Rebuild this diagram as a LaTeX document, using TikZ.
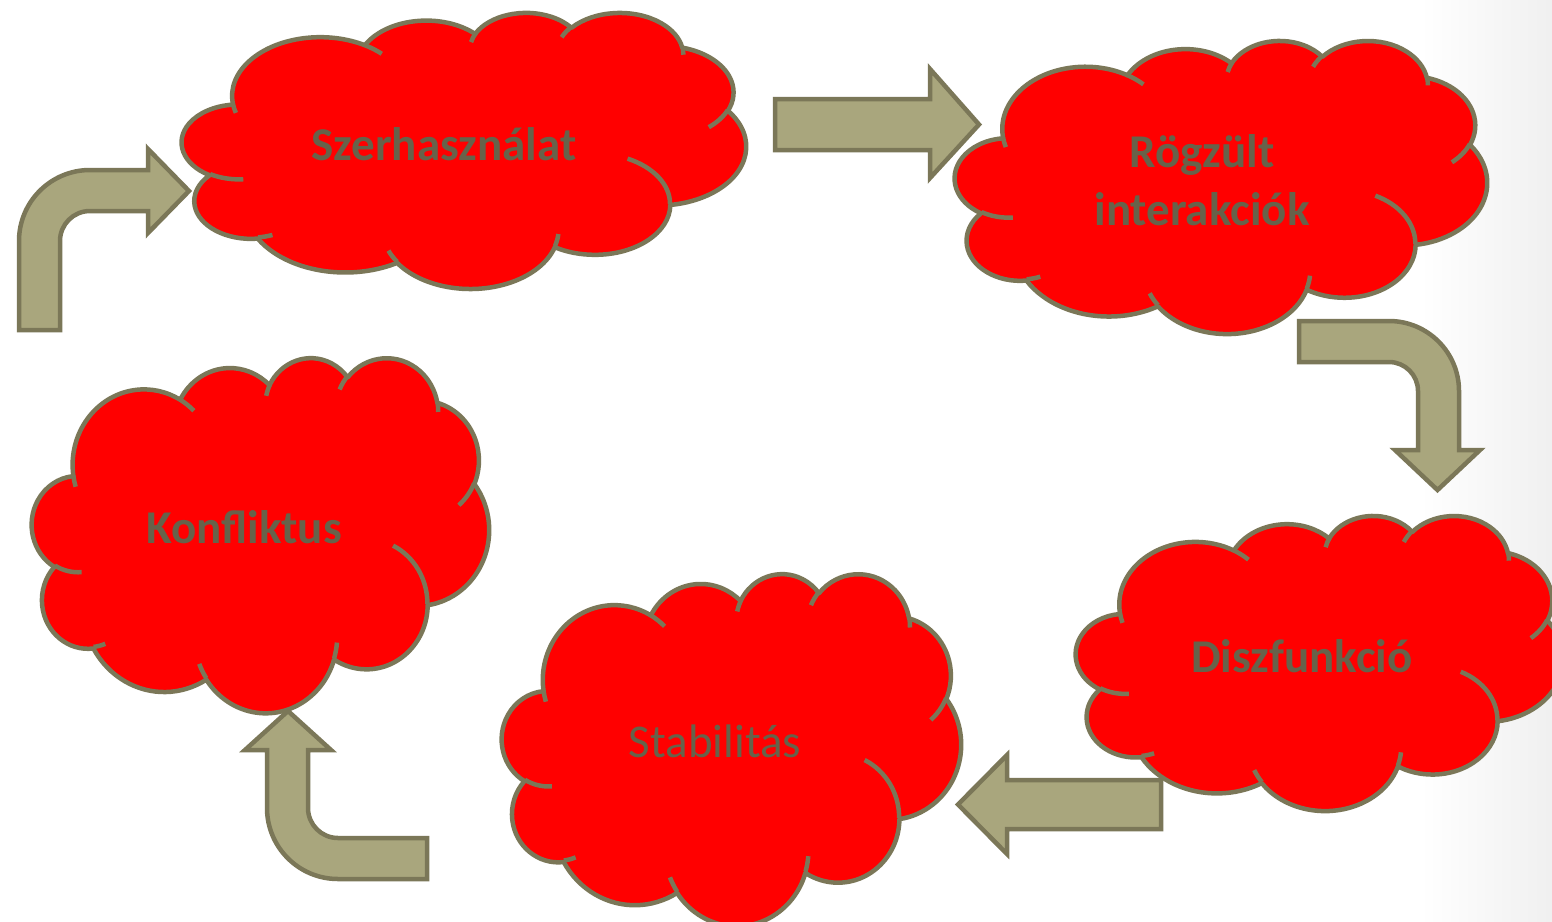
\documentclass[tikz,border=0pt]{standalone}
\usepackage{tikz}
\usepackage{fontspec}
\setmainfont{Carlito}
\definecolor{cloudred}{HTML}{FF0000}
\definecolor{olivedark}{HTML}{7B7758}
\definecolor{olivefill}{HTML}{A9A67D}
\definecolor{txtcol}{HTML}{67624A}

% convert an OOXML arc (visual angles) into parametric start/delta angles
\newcommand\convarc[5]{%
  \pgfmathsetmacro\tmpS{atan2((#2)*sin(#4),(#3)*cos(#4))}%
  \pgfmathsetmacro\tmpE{atan2((#2)*sin((#4)+(#5)),(#3)*cos((#4)+(#5)))}%
  \pgfmathsetmacro\tmpD{\tmpE-\tmpS}%
  \pgfmathsetmacro\tmpD{\tmpD+360*round(((#5)-\tmpD)/360)}%
  \expandafter\let\csname cs#1\endcsname\tmpS
  \expandafter\let\csname cd#1\endcsname\tmpD
}

\newcommand\drawcloud[4]{%
  \begin{scope}[shift={(#1,#2)}, xscale=#3/43.2, yscale=#4/43.2]
    \path[cloudfill] (3.9,14.37)
      arc[start angle=\csA, delta angle=\cdA, x radius=6.753, y radius=9.19]
      arc[start angle=\csB, delta angle=\cdB, x radius=5.333, y radius=7.267]
      arc[start angle=\csC, delta angle=\cdC, x radius=4.365, y radius=5.945]
      arc[start angle=\csD, delta angle=\cdD, x radius=4.857, y radius=6.595]
      arc[start angle=\csE, delta angle=\cdE, x radius=5.333, y radius=7.273]
      arc[start angle=\csF, delta angle=\cdF, x radius=6.775, y radius=9.22]
      arc[start angle=\csG, delta angle=\cdG, x radius=5.785, y radius=7.867]
      arc[start angle=\csH, delta angle=\cdH, x radius=6.752, y radius=9.215]
      arc[start angle=\csI, delta angle=\cdI, x radius=7.72, y radius=10.543]
      arc[start angle=\csJ, delta angle=\cdJ, x radius=4.36, y radius=5.918]
      arc[start angle=\csK, delta angle=\cdK, x radius=4.345, y radius=5.945]
      -- cycle;
    \path[cloudline]
      (4.693,26.177) arc[start angle=\csQA, delta angle=\cdQA, x radius=4.345, y radius=5.945]
      (6.928,34.899) arc[start angle=\csQB, delta angle=\cdQB, x radius=4.36, y radius=5.918]
      (16.478,39.09) arc[start angle=\csQC, delta angle=\cdQC, x radius=6.752, y radius=9.215]
      (28.827,34.751) arc[start angle=\csQD, delta angle=\cdQD, x radius=6.752, y radius=9.215]
      (34.129,22.954) arc[start angle=\csQE, delta angle=\cdQE, x radius=5.785, y radius=7.867]
      (41.798,15.354) arc[start angle=\csQF, delta angle=\cdQF, x radius=5.333, y radius=7.273]
      (38.324,5.426) arc[start angle=\csQG, delta angle=\cdQG, x radius=4.857, y radius=6.595]
      (29.078,3.952) arc[start angle=\csQH, delta angle=\cdQH, x radius=4.857, y radius=6.595]
      (22.141,4.72) arc[start angle=\csQI, delta angle=\cdQI, x radius=4.365, y radius=5.945]
      (14.0,5.192) arc[start angle=\csQJ, delta angle=\cdQJ, x radius=6.753, y radius=9.19]
      (4.127,15.789) arc[start angle=\csQK, delta angle=\cdQK, x radius=6.753, y radius=9.19];
  \end{scope}}

\begin{document}
\begin{tikzpicture}[x=1pt, y=-1pt,
  cloudfill/.style={fill=cloudred, draw=olivedark, line width=4.5pt, line join=round},
  cloudline/.style={draw=olivedark, line width=4.5pt},
  blockarrow/.style={fill=olivefill, draw=olivedark, line width=4.5pt, line join=miter},
  lbl/.style={text=txtcol, font=\fontsize{47}{57}\selectfont\bfseries, anchor=base, inner sep=0pt},
  lblreg/.style={lbl, font=\fontsize{47}{57}\selectfont}]
  \convarc{A}{6.753}{9.19}{-190.48748}{123.78053}
  \convarc{B}{5.333}{7.267}{-144.10238}{89.94523}
  \convarc{C}{4.365}{5.945}{-145.80792}{99.72302}
  \convarc{D}{4.857}{6.595}{-130.98607}{117.24173}
  \convarc{E}{5.333}{7.273}{-78.70888}{109.02692}
  \convarc{F}{6.775}{9.22}{-46.26725}{130.269}
  \convarc{G}{5.785}{7.867}{0.62502}{114.03333}
  \convarc{H}{6.752}{9.215}{22.4516}{115.17255}
  \convarc{I}{7.72}{10.543}{66.24263}{75.71102}
  \convarc{J}{4.36}{5.918}{-274.94208}{146.73557}
  \convarc{K}{4.345}{5.945}{-246.8285}{152.51885}
  \convarc{QA}{4.345}{5.945}{86.742}{26.4295}
  \convarc{QB}{4.36}{5.918}{73.6105}{11.4475}
  \convarc{QC}{6.752}{9.215}{137.6242}{14.0811}
  \convarc{QD}{6.752}{9.215}{6.4533}{15.9984}
  \convarc{QE}{5.785}{7.867}{-70.2924}{70.9174}
  \convarc{QF}{5.333}{7.273}{30.3180}{27.7515}
  \convarc{QG}{4.857}{6.595}{-13.7443}{14.8589}
  \convarc{QH}{4.857}{6.595}{-149.1815}{18.1954}
  \convarc{QI}{4.365}{5.945}{-163.4943}{17.6864}
  \convarc{QJ}{6.753}{9.19}{-66.7070}{12.3194}
  \convarc{QK}{6.753}{9.19}{157.6544}{11.8582}

  \useasboundingbox (0,0) rectangle (1552,921);
  \fill[white] (0,0) rectangle (1552,921);
  \shade[left color=white, right color=black!6] (1420,0) rectangle (1552,921);

  % clouds
  \drawcloud{182}{12}{564}{276}
  \drawcloud{955}{40}{532}{293}
  \drawcloud{32}{357}{457}{355}
  \drawcloud{1076}{515}{487}{295}
  \drawcloud{502}{573}{459}{352}

  % block arrows
  \path[blockarrow] (19,330) -- (19,241) arc[start angle=180, end angle=270, radius=71]
    -- (148,170) -- (148,149) -- (189,191) -- (148,233) -- (148,211) -- (90,211)
    arc[start angle=270, end angle=180, radius=30] -- (60,330) -- cycle;
  \path[blockarrow] (775,99) -- (930,99) -- (930,69) -- (979,124.5) -- (930,178)
    -- (930,150) -- (775,150) -- cycle;
  \path[blockarrow] (1299,321) -- (1389,321) arc[start angle=270, end angle=360, radius=70]
    -- (1459,450) -- (1480,450) -- (1437.5,490) -- (1395,450) -- (1418,450) -- (1418,391)
    arc[start angle=0, end angle=-90, radius=29] -- (1299,362) -- cycle;
  \path[blockarrow] (1161,780) -- (1007,780) -- (1007,755) -- (958,804.5) -- (1007,854)
    -- (1007,829) -- (1161,829) -- cycle;
  \path[blockarrow] (427,838) -- (338,838) arc[start angle=90, end angle=180, radius=30]
    -- (308,750) -- (331,750) -- (288,711) -- (245,750) -- (267,750) -- (267,808)
    arc[start angle=180, end angle=90, radius=71] -- (427,879) -- cycle;

  % labels
  \node[lbl] (szer) at (444,160) {Szerhasználat};
  \node[lbl] (rog1) at (1202,167.5) {Rögzült};
  \node[lbl] (rog2) at (1202,225.5) {interakciók};
  \node[lbl] (konf) at (244,543) {Konfliktus};
  \node[lbl] (disz) at (1302,672) {Diszfunkció};
  \node[lblreg] (stab) at (715,757) {Stabilitás};
\end{tikzpicture}
\end{document}
